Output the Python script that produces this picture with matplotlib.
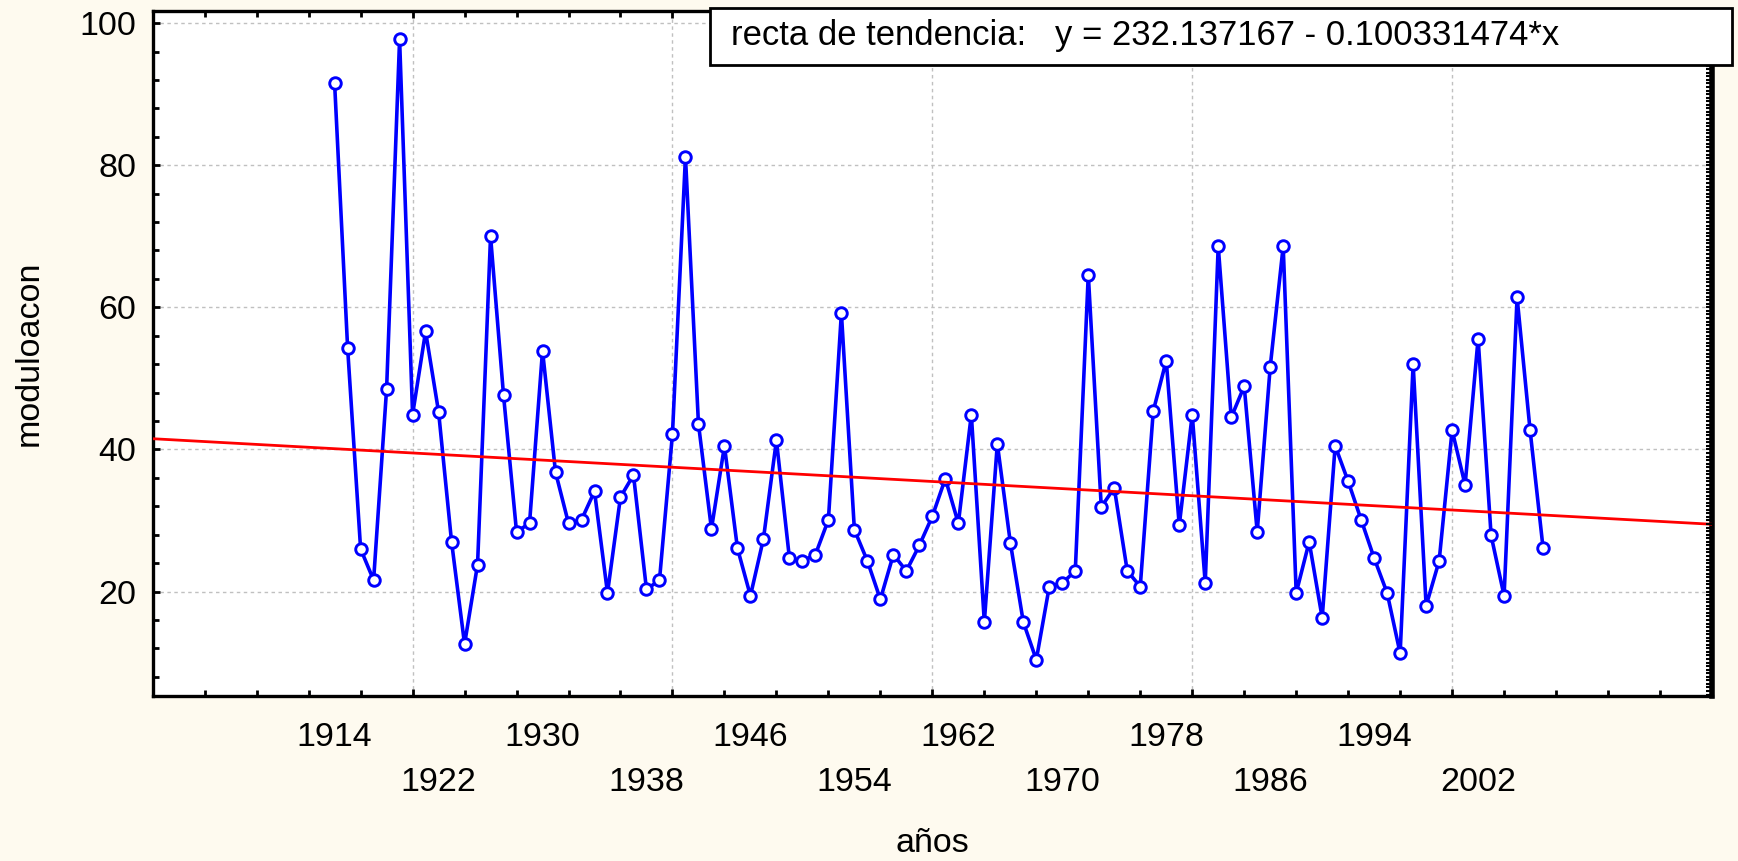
import matplotlib.pyplot as plt
import numpy as np
from matplotlib.ticker import MultipleLocator, FixedLocator
from matplotlib.patches import Rectangle
import matplotlib.transforms as mtransforms

plt.rcParams['font.family'] = ['Liberation Sans', 'DejaVu Sans']

# data
years = list(range(1914, 2008))
moduloacon = [91.5, 54.3, 26.0, 21.6, 48.5, 97.7, 44.9, 56.6, 45.3, 27.0,
              12.6, 23.8, 70.0, 47.6, 28.4, 29.6, 53.9, 36.8, 29.6, 30.1,
              34.1, 19.8, 33.3, 36.4, 20.3, 21.6, 42.2, 81.2, 43.6, 28.8,
              40.5, 26.1, 19.4, 27.4, 41.3, 24.7, 24.3, 25.2, 30.1, 59.2,
              28.7, 24.3, 18.9, 25.2, 22.9, 26.5, 30.6, 35.9, 29.6, 44.9,
              15.7, 40.8, 26.9, 15.7, 10.4, 20.7, 21.2, 22.9, 64.6, 31.9,
              34.6, 22.9, 20.7, 45.4, 52.5, 29.3, 44.9, 21.2, 68.6, 44.5,
              48.9, 28.4, 51.6, 68.6, 19.8, 27.0, 16.3, 40.5, 35.5, 30.1,
              24.7, 19.8, 11.3, 52.0, 18.0, 24.3, 42.7, 35.0, 55.6, 27.9,
              19.4, 61.4, 42.7, 26.1]
intercept = 232.137167
slope = -0.100331474
label_years = list(range(1914, 2003, 8))

bg = '#FEFAEF'
W, H = 1738, 861
fig = plt.figure(figsize=(W / 100, H / 100), dpi=100, facecolor=bg)
ax = fig.add_axes([152.7 / W, 1 - 696 / H, (1712 - 152.7) / W, (696 - 11) / H])
ax.set_facecolor('white')

xlim = (1900, 2020)
ylim = (5.3, 101.7)
ax.set_xlim(*xlim)
ax.set_ylim(*ylim)

ax.plot(years, moduloacon, color='#0000FF', lw=2.6, marker='o', ms=8.3,
        mfc='white', mec='#0000FF', mew=2.1, zorder=3)
xt = np.array(xlim)
ax.plot(xt, intercept + slope * xt, color='#FF0000', lw=2.0, zorder=4)

# ticks
ax.xaxis.set_major_locator(MultipleLocator(20))
ax.xaxis.set_minor_locator(MultipleLocator(4))
ax.yaxis.set_major_locator(FixedLocator([20, 40, 60, 80, 100]))
ax.yaxis.set_minor_locator(MultipleLocator(4))
ax.tick_params(axis='both', which='both', direction='in', width=2, color='black')
ax.tick_params(axis='both', which='major', length=5)
ax.tick_params(axis='both', which='minor', length=4)
ax.tick_params(axis='x', which='both', top=True, labelbottom=False)
ax.tick_params(axis='y', which='both', right=False, labelsize=24.5, pad=12)
ax.grid(True, which='major', color='#c0c0c0', lw=1, ls=(0, (2.5, 2.5)))

for s in ['left', 'bottom', 'top']:
    ax.spines[s].set_linewidth(2.4)
ax.spines['right'].set_linewidth(4)

# dense ticks along the right spine
ax2 = ax.twinx()
ax2.set_ylim(*ylim)
ax2.yaxis.set_major_locator(MultipleLocator(0.5))
ax2.tick_params(axis='y', direction='in', length=4, width=1.5, labelright=False)
for s in ax2.spines.values():
    s.set_visible(False)

# year labels in two rows
trans = mtransforms.blended_transform_factory(ax.transData, ax.transAxes)
for i, yr in enumerate(label_years):
    yy = -0.060 if i % 2 == 0 else -0.126
    ax.text(yr, yy, str(yr), transform=trans, ha='center', va='center', fontsize=24.5)

ax.set_xlabel('años', fontsize=24.5, va='center')
ax.xaxis.set_label_coords(0.5, -0.2146)
ax.set_ylabel('moduloacon', fontsize=24.5, va='center')
ax.yaxis.set_label_coords(-0.0793, 0.5)

# trend equation box
fig.add_artist(Rectangle((710 / W, 1 - 65 / H), (1732 - 710) / W, (65 - 8) / H,
                         transform=fig.transFigure, facecolor='white',
                         edgecolor='black', lw=2, zorder=5))
fig.text(731 / W, 1 - 45 / H,
         'recta de tendencia:   y = %.6f - %.9f*x' % (intercept, -slope),
         ha='left', va='baseline', fontsize=24.9, zorder=6)

fig.savefig('out.png', dpi=100, facecolor=bg)
